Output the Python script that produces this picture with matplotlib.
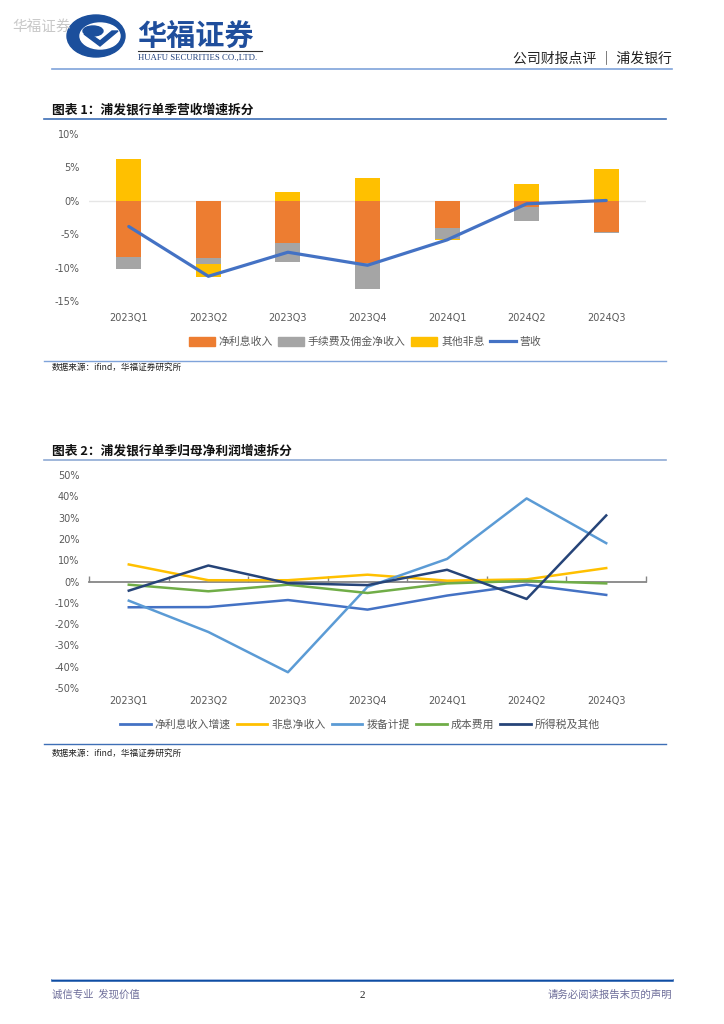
import numpy as np
import matplotlib
matplotlib.use("Agg")
import matplotlib.pyplot as plt
from matplotlib.patches import Ellipse, Polygon, Patch
from matplotlib.lines import Line2D
import matplotlib.transforms as mtransforms

plt.rcParams['font.family'] = ['Noto Sans CJK SC', 'DejaVu Sans']

# ---------------- data ----------------
quarters = ["2023Q1", "2023Q2", "2023Q3", "2023Q4", "2024Q1", "2024Q2", "2024Q3"]

# Chart 1: revenue growth decomposition (%)
nii = [-8.45, -8.6, -6.25, -9.3, -4.0, -0.95, -4.7]
fee = [-1.75, -0.8, -2.85, -3.85, -1.7, -2.05, -0.15]
other_nonint = [6.25, -1.95, 1.3, 3.45, -0.1, 2.5, 4.75]
revenue = [-3.85, -11.3, -7.7, -9.65, -5.85, -0.45, 0.05]

bar_names = ["净利息收入", "手续费及佣金净收入", "其他非息"]
line_name1 = "营收"

# Chart 2: net profit growth decomposition (%)
p_nii = [-12.1, -12.0, -8.7, -13.2, -6.6, -1.5, -6.3]
p_nonint = [8.0, 0.6, 0.6, 3.2, 0.4, 1.0, 6.3]
p_provision = [-9.0, -23.7, -42.6, -2.5, 10.6, 39.0, 18.0]
p_cost = [-1.5, -4.6, -1.5, -5.4, -0.9, 0.3, -0.9]
p_tax = [-4.3, 7.5, -0.8, -1.7, 5.5, -8.2, 31.0]
names2 = ["净利息收入增速", "非息净收入", "拨备计提", "成本费用", "所得税及其他"]

# ---------------- figure ----------------
W, H = 724, 1024
fig = plt.figure(figsize=(W / 100, H / 100), dpi=100)

bg = fig.add_axes([0, 0, 1, 1])
bg.set_xlim(0, W)
bg.set_ylim(H, 0)
bg.axis("off")

navy = "#1F4E9C"
tick_col = "#595959"

# header
bg.text(12, 27, "华福证券", fontsize=10.5, color="#C8C8C8", va="center", ha="left")
bg.add_patch(Ellipse((96, 36), 58, 42, color="#1B4F9C"))
bg.add_patch(Ellipse((100, 36), 40, 26, color="white"))
bg.add_patch(Polygon([[84, 34], [100, 46], [118, 31], [112, 31], [100, 41], [90, 34]],
                     closed=True, color="#1B4F9C"))
bg.add_patch(Ellipse((93, 31), 20, 10, color="#1B4F9C"))
bg.text(137, 36, "华福证券", fontsize=21, fontweight="bold", color=navy, va="center", ha="left")
bg.plot([138, 262], [51, 51], color="#333333", lw=0.8)
bg.text(138, 58, "HUAFU SECURITIES CO.,LTD.", fontsize=6.3, family="Liberation Serif",
        color="#1F3F7A", va="center", ha="left")
bg.text(672, 59, "公司财报点评 ｜ 浦发银行", fontsize=10, color="#222222", va="center", ha="right")
bg.plot([52, 672], [69, 69], color="#7FA3DA", lw=1.2)

# chart 1 title
bg.text(52, 110, "图表 1：浦发银行单季营收增速拆分", fontsize=9.2, fontweight="bold",
        color="#111111", va="center", ha="left")
bg.plot([44, 666], [118.5, 118.5], color="#3E6FB6", lw=1.2)
bg.plot([44, 666], [361, 361], color="#7FA3DA", lw=1.0)
bg.text(52, 367, "数据来源：ifind，华福证券研究所", fontsize=6.2, color="#222222", va="center", ha="left")

# chart 2 title
bg.text(52, 451, "图表 2：浦发银行单季归母净利润增速拆分", fontsize=9.2, fontweight="bold",
        color="#111111", va="center", ha="left")
bg.plot([44, 666], [460, 460], color="#8FAAD4", lw=1.2)
bg.plot([44, 666], [744, 744], color="#3E6FB6", lw=1.0)
bg.text(52, 753, "数据来源：ifind，华福证券研究所", fontsize=6.2, color="#222222", va="center", ha="left")

# footer
bg.plot([52, 672], [980, 980], color="#0E4DA4", lw=1.8)
bg.plot([52, 672], [978.5, 978.5], color="#B7C9E8", lw=0.6)
bg.text(52, 995, "诚信专业  发现价值", fontsize=7.5, color="#6E6E9A", va="center", ha="left")
bg.text(362, 995, "2", fontsize=8, color="#222222", va="center", ha="center", family="Liberation Serif")
bg.text(672, 995, "请务必阅读报告末页的声明", fontsize=7.5, color="#6E6E9A", va="center", ha="right")


def fig_rect(x0, y0, x1, y1):
    return [x0 / W, 1 - y1 / H, (x1 - x0) / W, (y1 - y0) / H]


# ---------------- chart 1 ----------------
ax1 = fig.add_axes(fig_rect(89, 134, 646, 301))
x = np.arange(len(quarters))
series = [np.array(nii), np.array(fee), np.array(other_nonint)]
colors1 = ["#ED7D31", "#A5A5A5", "#FFC000"]
pos_base = np.zeros(len(quarters))
neg_base = np.zeros(len(quarters))
for vals, c, nm in zip(series, colors1, bar_names):
    base = np.where(vals >= 0, pos_base, neg_base)
    ax1.bar(x, vals, bottom=base, width=0.315, color=c, label=nm, zorder=2)
    pos_base = pos_base + np.where(vals >= 0, vals, 0)
    neg_base = neg_base + np.where(vals < 0, vals, 0)
ax1.plot(x, revenue, color="#4472C4", lw=2.3, label=line_name1, zorder=3, solid_capstyle="round")
ax1.set_xlim(-0.5, len(quarters) - 0.5)
ax1.set_ylim(-15, 10)
ax1.set_yticks([-15, -10, -5, 0, 5, 10])
ax1.set_yticklabels([f"{v}%" for v in [-15, -10, -5, 0, 5, 10]])
ax1.axhline(0, color="#E6E6E6", lw=1.0, zorder=1)
for s in ax1.spines.values():
    s.set_visible(False)
ax1.tick_params(axis="both", length=0, labelsize=7, colors=tick_col, pad=7)
ax1.set_xticks(x)
ax1.set_xticklabels(quarters)
ax1.tick_params(axis="x", pad=9)
for lbl in ax1.get_xticklabels() + ax1.get_yticklabels():
    lbl.set_family("DejaVu Sans")

handles1 = [Patch(color=c) for c in colors1] + [Line2D([], [], color="#4472C4", lw=2.3)]
fig.legend(handles1, bar_names + [line_name1], loc="center", bbox_to_anchor=(365 / W, 1 - 342 / H),
           ncol=4, frameon=False, fontsize=7.8, handlelength=2.4, handleheight=0.8,
           columnspacing=0.5, handletextpad=0.35, labelcolor=tick_col)

# ---------------- chart 2 ----------------
ax2 = fig.add_axes(fig_rect(89, 475, 646, 688))
colors2 = ["#4472C4", "#FFC000", "#5B9BD5", "#70AD47", "#264478"]
data2 = [p_nii, p_nonint, p_provision, p_cost, p_tax]
for vals, c, nm in zip(data2, colors2, names2):
    ax2.plot(x, vals, color=c, lw=1.8, label=nm, zorder=3)
ax2.set_xlim(-0.5, len(quarters) - 0.5)
ax2.set_ylim(-50, 50)
yt = list(range(-50, 51, 10))
ax2.set_yticks(yt)
ax2.set_yticklabels([f"{v}%" for v in yt])
for k in ["top", "right", "left"]:
    ax2.spines[k].set_visible(False)
ax2.spines["bottom"].set_position(("data", 0))
ax2.spines["bottom"].set_color("#868686")
ax2.spines["bottom"].set_linewidth(1.3)
ax2.spines["bottom"].set_zorder(2)
ax2.set_xticks(np.arange(-0.5, len(quarters)))
ax2.set_xticklabels([])
ax2.tick_params(axis="x", direction="in", length=4, color="#868686", width=1.0)
ax2.tick_params(axis="y", length=0, labelsize=7, colors=tick_col, pad=7)
for lbl in ax2.get_yticklabels():
    lbl.set_family("DejaVu Sans")
trans = mtransforms.blended_transform_factory(ax2.transData, ax2.transAxes)
for xi, q in zip(x, quarters):
    ax2.text(xi, -0.06, q, transform=trans, ha="center", va="center", fontsize=7,
             color=tick_col, family="DejaVu Sans")

handles2 = [Line2D([], [], color=c, lw=2.0) for c in colors2]
fig.legend(handles2, names2, loc="center", bbox_to_anchor=(360 / W, 1 - 725 / H),
           ncol=5, frameon=False, fontsize=7.8, handlelength=2.8,
           columnspacing=0.6, handletextpad=0.35, labelcolor=tick_col)

fig.savefig("out.png", dpi=100)
